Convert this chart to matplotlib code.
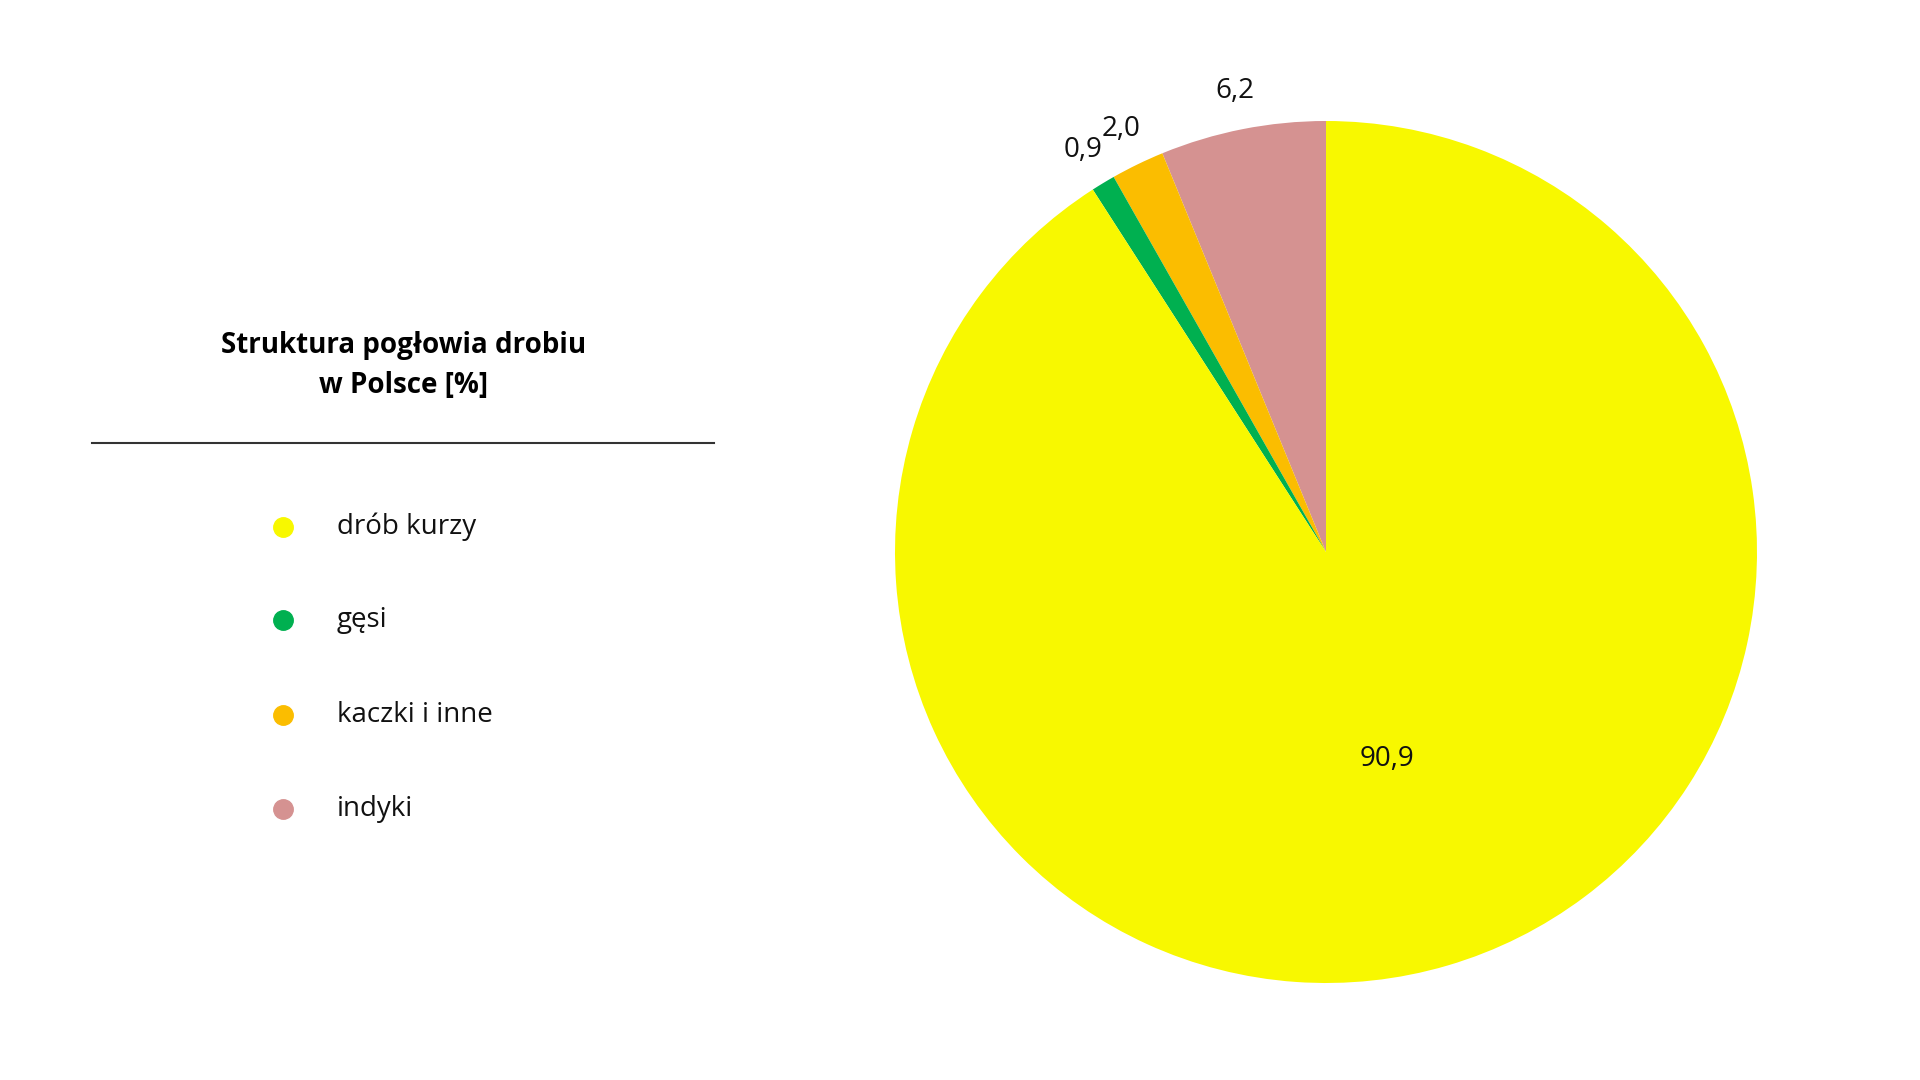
import matplotlib
matplotlib.use("Agg")
import matplotlib.pyplot as plt
import numpy as np

plt.rcParams['font.family'] = ['Open Sans', 'DejaVu Sans']

categories = ["drób kurzy", "gęsi", "kaczki i inne", "indyki"]
values = [90.9, 0.9, 2.0, 6.2]
labels = ["90,9", "0,9", "2,0", "6,2"]
colors = ["#f8f800", "#00b050", "#fbbd00", "#d59291"]

fig = plt.figure(figsize=(19.2, 10.8), dpi=100)
W, H = 1920, 1080
cx, cy, r = 1326, 552, 431
ax = fig.add_axes([(cx - r) / W, (H - cy - r) / H, 2 * r / W, 2 * r / H])
# draw pie counterclockwise from top in reverse order
order = [3, 2, 1, 0]
wedges, _ = ax.pie([values[i] for i in order], colors=[colors[i] for i in order],
                   startangle=90, counterclock=True, radius=1,
                   wedgeprops=dict(linewidth=0))
ax.set_xlim(-1, 1); ax.set_ylim(-1, 1); ax.set_aspect('equal'); ax.axis('off')
for w, i in zip(wedges, order):
    mid = np.deg2rad((w.theta1 + w.theta2) / 2)
    d = 0.5 if values[i] > 50 else 1.09
    ax.text(d * np.cos(mid), d * np.sin(mid), labels[i], ha='center', va='center',
            fontsize=20, color='#111111')

# left panel
fig.text(404 / W, 1 - 365 / H, "Struktura pogłowia drobiu\nw Polsce [%]", ha='center',
         va='center', fontsize=20, fontweight='bold', linespacing=1.5)
fig.add_artist(plt.Line2D([92 / W, 714 / W], [1 - 443 / H] * 2, color='#333333', lw=1.5))
ys = [527, 620, 715, 809]
for c, t, y in zip(categories, colors, ys):
    fig.add_artist(plt.Line2D([283 / W], [1 - y / H], marker='o', markersize=14,
                              color=t, linestyle='none'))
    fig.text(337 / W, 1 - y / H, c, ha='left', va='center', fontsize=20, color='#111111')

fig.savefig("out.png", dpi=100)
